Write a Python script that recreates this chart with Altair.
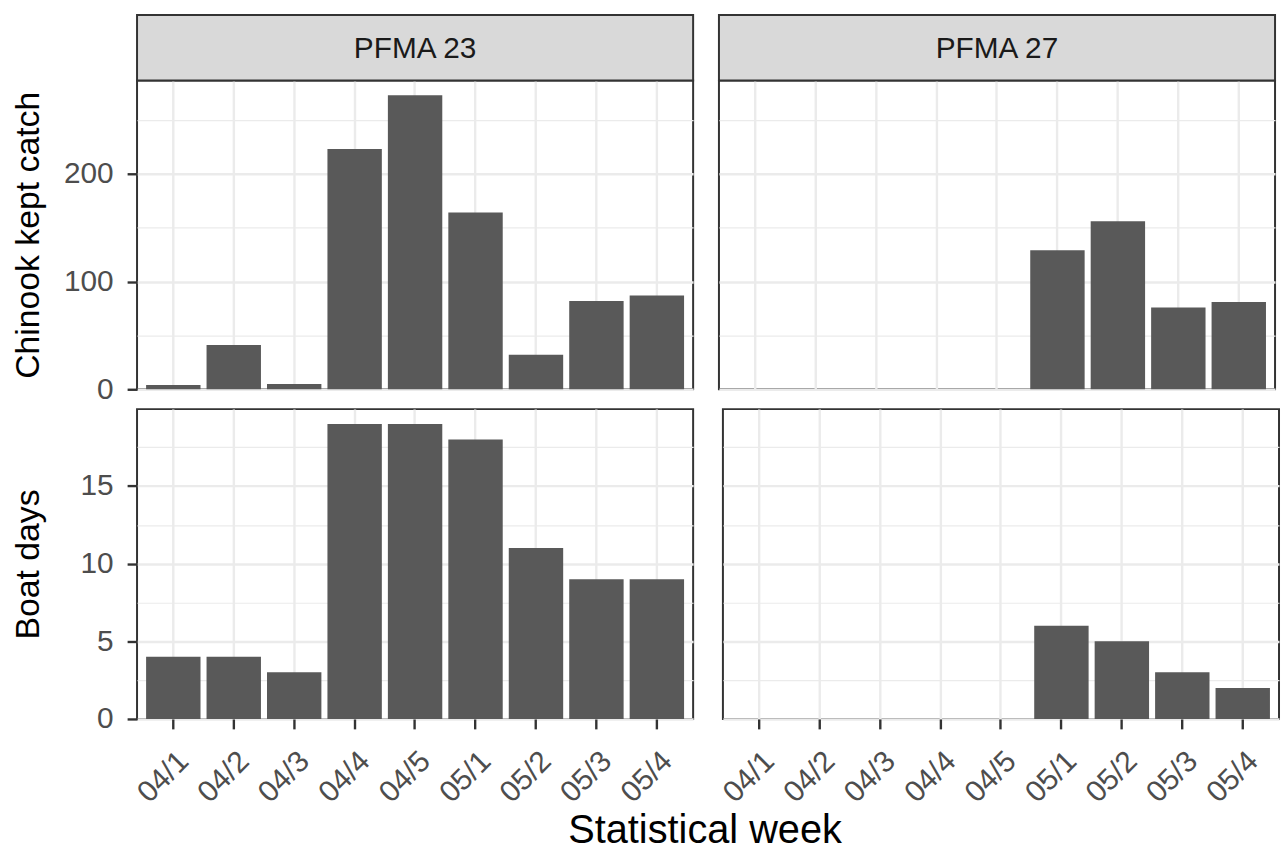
import altair as alt
import pandas as pd

# ---- data ----
weeks = ["04/1", "04/2", "04/3", "04/4", "04/5", "05/1", "05/2", "05/3", "05/4"]
panels = ["PFMA 23", "PFMA 27"]
catch_pfma23 = [4, 41, 5, 223, 273, 164, 32, 82, 87]
catch_pfma27 = [None, None, None, None, None, 129, 156, 76, 81]
days_pfma23 = [4, 4, 3, 19, 19, 18, 11, 9, 9]
days_pfma27 = [None, None, None, None, None, 6, 5, 3, 2]
catch_ticks = [0, 50, 100, 150, 200, 250]
days_ticks = [0, 2.5, 5, 7.5, 10, 12.5, 15, 17.5]
row_titles = ["Chinook kept catch", "Boat days"]
x_title = "Statistical week"

FONT = "Liberation Sans"
W_L, W_R = 560, 560
H_T, H_B = 311, 312
STRIP_H = 66
GRID = "#EBEBEB"
DARK = "#333333"
TICK_FS = 30

catch_max = max(v for v in catch_pfma23 + catch_pfma27 if v is not None) * 1.05
days_max = max(v for v in days_pfma23 + days_pfma27 if v is not None) * 1.05


def frame(values):
    df = pd.DataFrame({"week": weeks, "value": values})
    return df.dropna()


def y_axis(step, ticks, show):
    test = f"datum.value % {step} === 0"
    common = dict(
        values=ticks, grid=True, gridColor=GRID,
        gridWidth={"condition": {"test": test, "value": 2.4}, "value": 1.2},
        domain=False, labelOverlap=False,
    )
    if show:
        return alt.Axis(
            **common,
            labelExpr=f"{test} ? datum.label : ''",
            ticks=True, tickSize=10, tickWidth=2.4, tickColor=DARK,
            tickOpacity={"condition": {"test": test, "value": 1}, "value": 0},
            labelPadding=14, labelFontSize=TICK_FS, labelColor="#4D4D4D",
            minExtent=81, maxExtent=81, titlePadding=11, titleFontSize=34,
        )
    return alt.Axis(**common, labels=False, ticks=False, minExtent=0, maxExtent=0)


def panel(values, pfma, ytitle, ymax, ticks, step, width, height, left, top):
    df = frame(values)
    if top:
        x_axis = alt.Axis(labels=False, ticks=False, domain=False, title=None,
                          grid=True, gridColor=GRID, gridWidth=2.4,
                          minExtent=0, maxExtent=0)
    else:
        x_axis = alt.Axis(title=None, grid=True, gridColor=GRID, gridWidth=2.4,
                          labelAngle=-45, labelAlign="right", labelBaseline="top",
                          labelFontSize=TICK_FS, labelColor="#4D4D4D", labelPadding=17,
                          labelOverlap=False, tickSize=10, tickWidth=2.4,
                          tickColor=DARK, domain=False)
    y_enc = alt.Y(
        "value:Q",
        scale=alt.Scale(domain=[0, ymax], nice=False, zero=True),
        axis=y_axis(step, ticks, left),
    )
    y_enc = y_enc.title(ytitle) if left else y_enc.title(None)
    bars = alt.Chart(df).mark_bar(color="#595959").encode(
        x=alt.X("week:N", sort=weeks,
                scale=alt.Scale(domain=weeks, paddingInner=0.1, paddingOuter=0.15),
                axis=x_axis),
        y=y_enc,
    )
    layers = [bars]
    if top:
        sdf = pd.DataFrame({"panel": [pfma]})
        strip = alt.Chart(sdf).mark_rect(
            fill="#D9D9D9", stroke=DARK, strokeWidth=2
        ).encode(x=alt.value(0), x2=alt.value(width),
                 y=alt.value(-STRIP_H), y2=alt.value(0))
        label = alt.Chart(sdf).mark_text(
            font=FONT, fontSize=30, color="#1A1A1A", baseline="middle", align="center"
        ).encode(x=alt.value(width / 2), y=alt.value(-STRIP_H / 2 + 1), text="panel:N")
        layers += [strip, label]
    return alt.layer(*layers).properties(width=width, height=height)


TL = panel(catch_pfma23, panels[0], row_titles[0], catch_max, catch_ticks, 100, W_L, H_T, True, True)
TR = panel(catch_pfma27, panels[1], row_titles[0], catch_max, catch_ticks, 100, W_R, H_T, False, True)
BL = panel(days_pfma23, panels[0], row_titles[1], days_max, days_ticks, 5, W_L, H_B, True, False)
BR = panel(days_pfma27, panels[1], row_titles[1], days_max, days_ticks, 5, W_R, H_B, False, False)

row1 = alt.hconcat(TL, TR, spacing=22)
row2 = alt.hconcat(BL, BR, spacing=22)

chart = alt.vconcat(row1, row2, spacing=3).properties(
    title=alt.TitleParams(x_title, orient="bottom", anchor="middle", fontSize=40,
                          font=FONT, fontWeight="normal", color="black",
                          dx=60, offset=2),
    padding={"left": 10, "top": 10, "right": 1, "bottom": 0},
    background="white",
).configure_view(
    stroke=DARK, strokeWidth=2
).configure_axis(
    labelFont=FONT, titleFont=FONT, titleFontWeight="normal", titleColor="black"
)

chart.save("out.html", embed_options={"renderer": "svg", "actions": False})
